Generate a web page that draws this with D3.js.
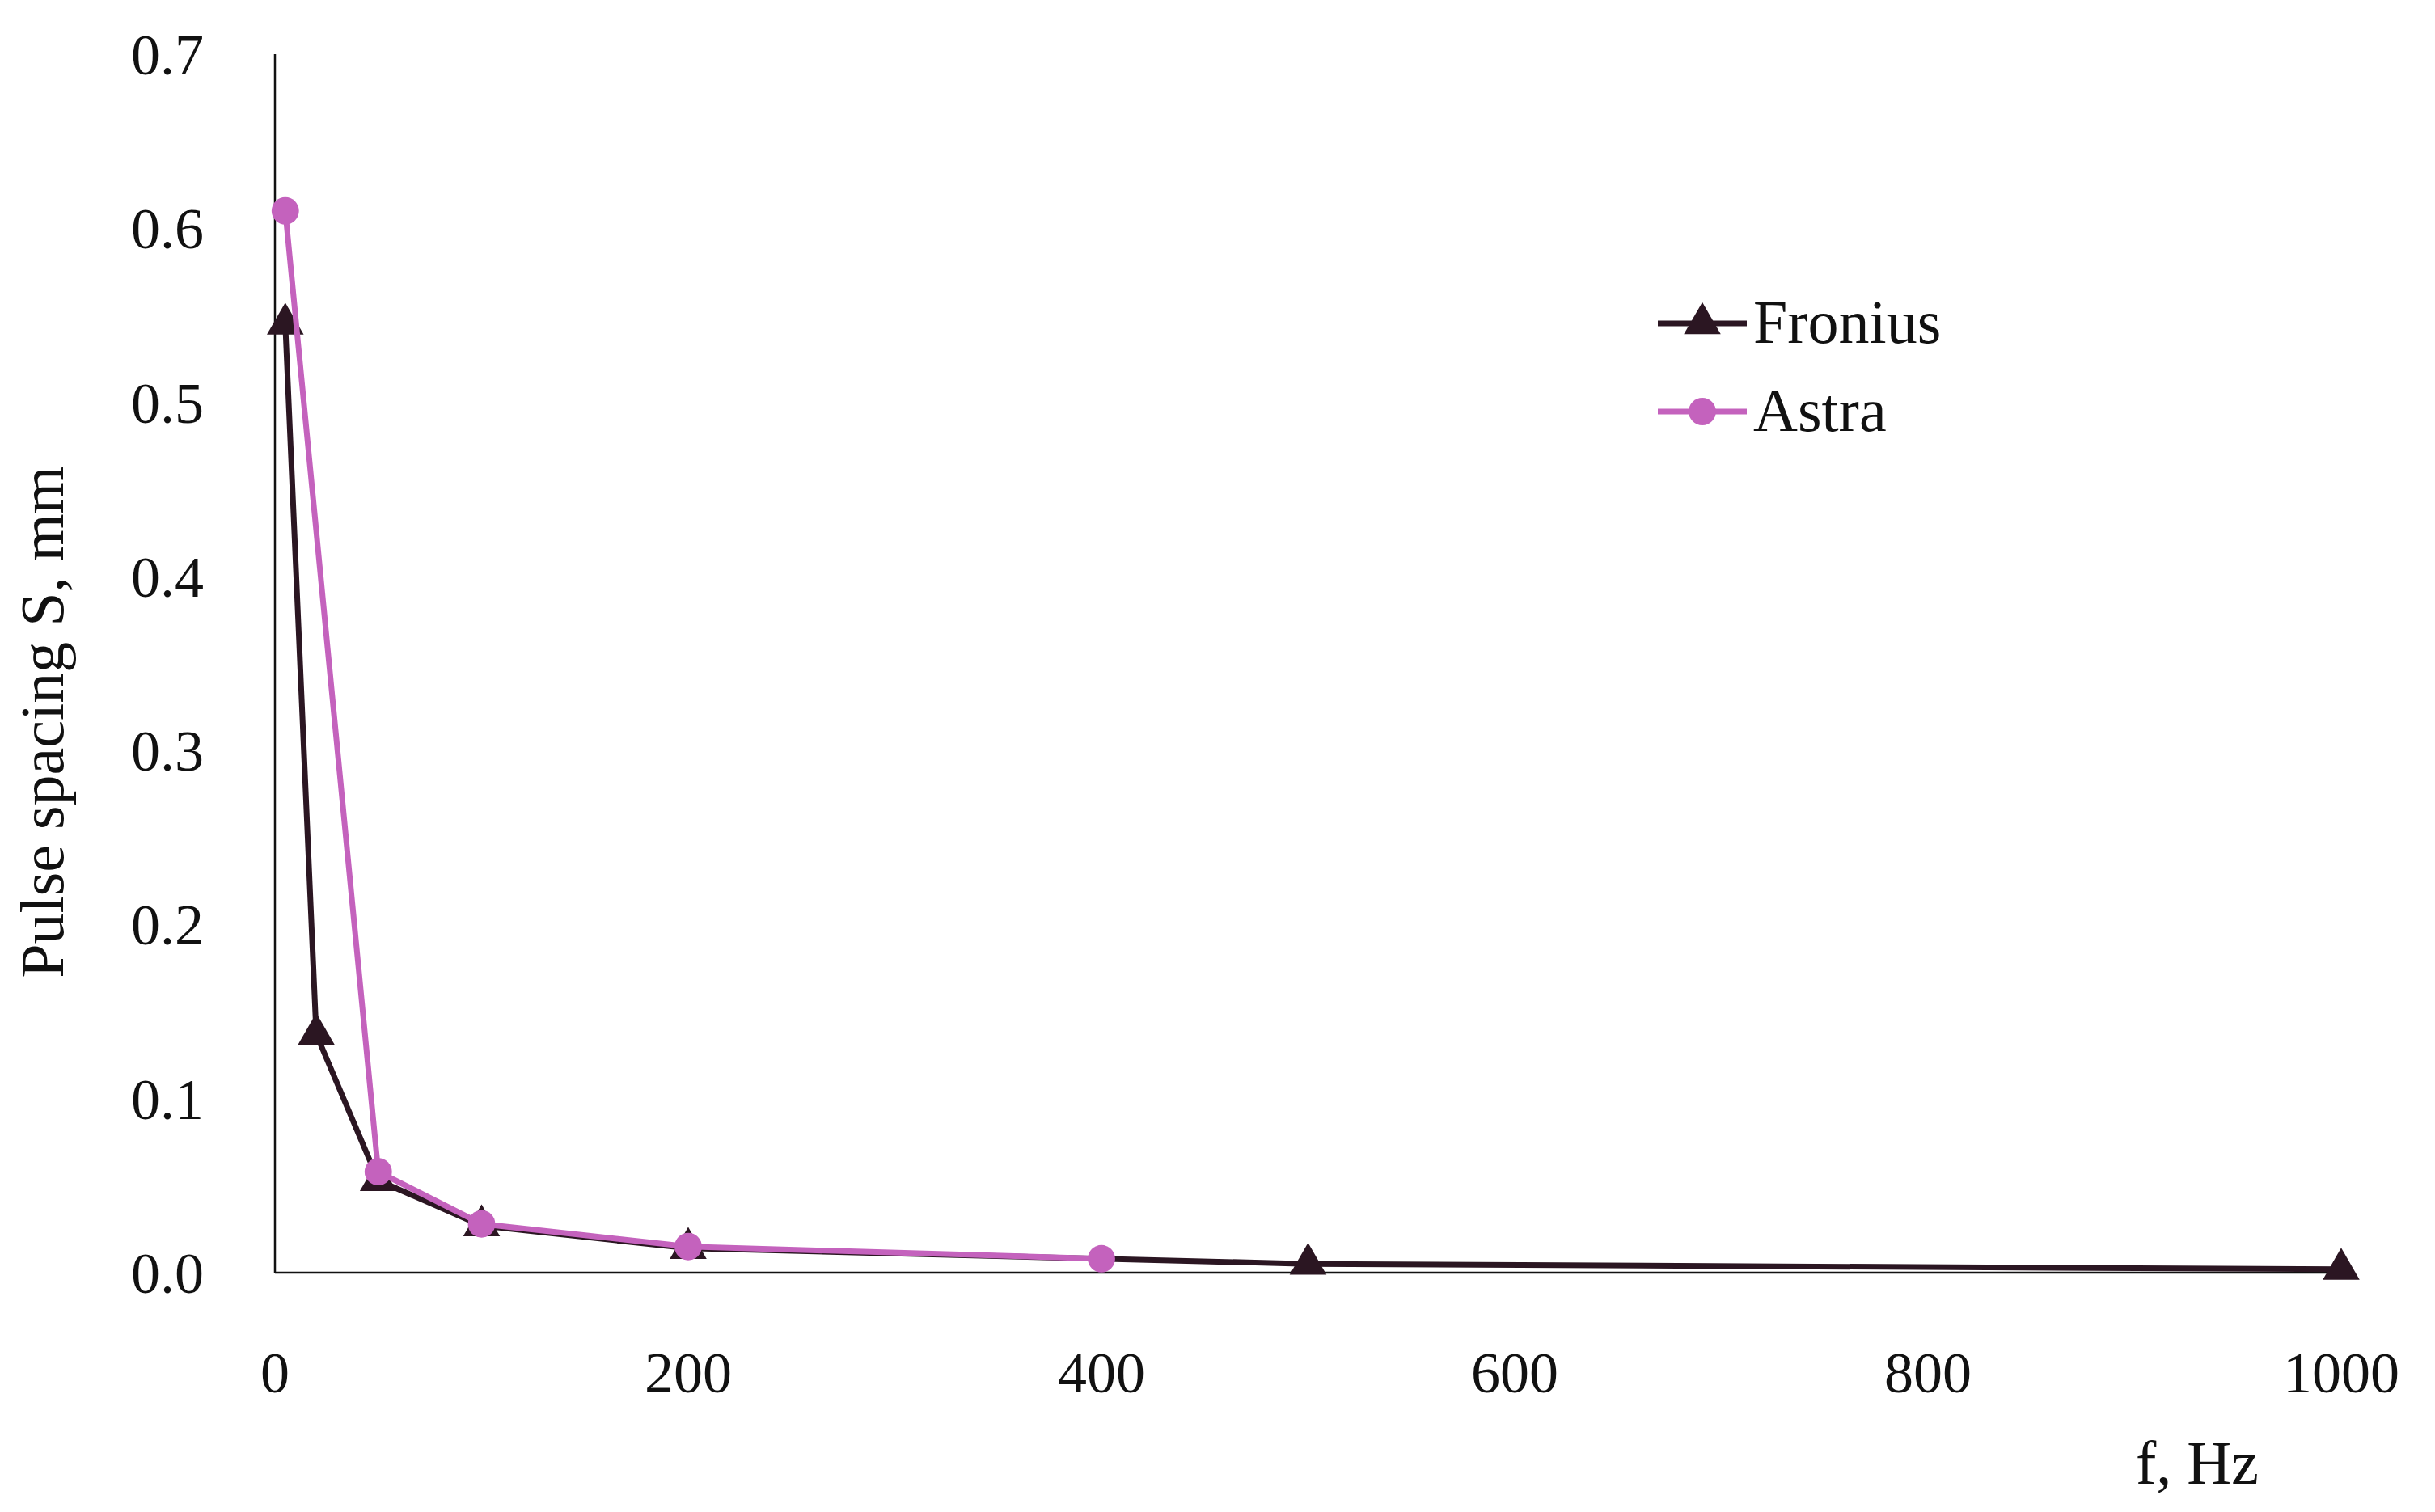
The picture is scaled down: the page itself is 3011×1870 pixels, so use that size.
<!DOCTYPE html>
<html><head><meta charset="utf-8">
<script src="https://cdn.jsdelivr.net/npm/d3@7"></script>
<style>body{margin:0;background:#fff}text{font-family:"Liberation Serif",serif;fill:#111}</style>
</head><body><div id="container"></div>
<script>
const froniusF = [5, 20, 50, 100, 200, 500, 1000];
const froniusS = [0.545, 0.137, 0.053, 0.027, 0.014, 0.005, 0.002];
const astraF = [5, 50, 100, 200, 400];
const astraS = [0.61, 0.058, 0.028, 0.015, 0.008];
const xTicks = [0, 200, 400, 600, 800, 1000];
const yTicks = [0, 0.1, 0.2, 0.3, 0.4, 0.5, 0.6, 0.7];

const w = 3011, h = 1870;
const svg = d3.select('#container').append('svg').attr('width', w).attr('height', h);
const x = d3.scaleLinear().domain([0, 1000]).range([340, 2895]);
const y = d3.scaleLinear().domain([0, 0.7]).range([1574, 67]);

svg.append('line').attr('x1', x(0)).attr('x2', 2905).attr('y1', y(0)).attr('y2', y(0)).attr('stroke', '#111').attr('stroke-width', 2.5);
svg.append('line').attr('x1', x(0)).attr('x2', x(0)).attr('y1', y(0)).attr('y2', y(0.7)).attr('stroke', '#111').attr('stroke-width', 2.5);

svg.selectAll('.yt').data(yTicks).enter().append('text')
  .attr('x', 252).attr('y', d => y(d) + 25).attr('text-anchor', 'end')
  .attr('font-size', 72).text(d => d.toFixed(1));
svg.selectAll('.xt').data(xTicks).enter().append('text')
  .attr('x', d => x(d)).attr('y', 1722).attr('text-anchor', 'middle')
  .attr('font-size', 72).text(d => d);
svg.append('text').attr('x', 2717).attr('y', 1835).attr('text-anchor', 'middle').attr('font-size', 76).text('f, Hz');
svg.append('text').attr('transform', 'translate(78,893) rotate(-90)').attr('text-anchor', 'middle')
  .attr('font-size', 76).text('Pulse spacing S, mm');

const series = [
  {name: 'Fronius', f: froniusF, s: froniusS, color: '#2b1622', shape: d3.symbolTriangle},
  {name: 'Astra', f: astraF, s: astraS, color: '#c462bd', shape: d3.symbolCircle}
];
const line = d3.line().x(d => x(d[0])).y(d => y(d[1]));
series.forEach((sr, k) => {
  const pts = sr.f.map((v, i) => [v, sr.s[i]]);
  svg.append('path').attr('d', line(pts)).attr('fill', 'none').attr('stroke', sr.color).attr('stroke-width', 7);
  svg.selectAll('.p' + k).data(pts).enter().append('path')
    .attr('transform', d => `translate(${x(d[0])},${y(d[1])})`)
    .attr('d', d3.symbol().type(sr.shape).size(900)).attr('fill', sr.color);
  const ly = 400 + k * 109;
  svg.append('line').attr('x1', 2050).attr('x2', 2160).attr('y1', ly).attr('y2', ly).attr('stroke', sr.color).attr('stroke-width', 7);
  svg.append('path').attr('transform', `translate(2105,${ly})`).attr('d', d3.symbol().type(sr.shape).size(900)).attr('fill', sr.color);
  svg.append('text').attr('x', 2168).attr('y', ly + 24).attr('font-size', 76).text(sr.name);
});
</script></body></html>
